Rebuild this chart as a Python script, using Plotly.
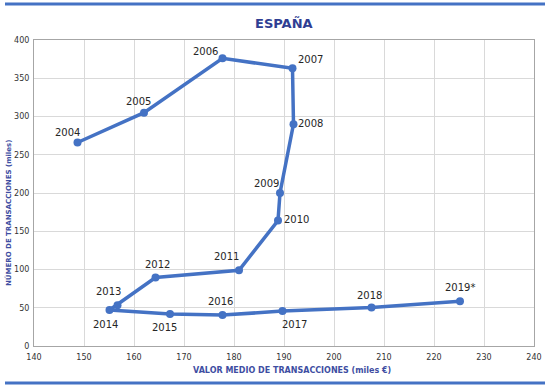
import plotly.graph_objects as go

years = ["2004", "2005", "2006", "2007", "2008", "2009", "2010", "2011", "2012",
         "2013", "2014", "2015", "2016", "2017", "2018", "2019*"]
valor_medio = [148.7, 162.0, 177.7, 191.7, 191.9, 189.2, 188.8, 181.0, 164.3,
               156.7, 155.1, 167.2, 177.7, 189.7, 207.5, 225.2]
num_transacciones = [266, 305, 376, 363, 290, 200, 164, 99, 89.5,
                     53.4, 47, 41.7, 40.4, 45.6, 50.4, 58.6]

# label offsets in pixels (dx, dy) relative to each point
label_offsets = [(-10, -10), (-6, -11), (-17, -7), (18, -9), (17, -1), (-14, -10),
                 (18, -1), (-13, -14), (2, -13), (-9, -14), (-4, 14), (-6, 13),
                 (-2, -14), (12, 13), (-2, -12), (0, -14)]

blue = "#4472C4"
title_blue = "#2F3E93"
axis_title_blue = "#3E4EA2"

fig = go.Figure()
fig.add_trace(go.Scatter(
    x=valor_medio, y=num_transacciones, mode="lines+markers",
    line=dict(color=blue, width=3.5),
    marker=dict(color=blue, size=8),
    hoverinfo="skip", showlegend=False,
))

annotations = []
for yr, xv, yv, (dx, dy) in zip(years, valor_medio, num_transacciones, label_offsets):
    annotations.append(dict(
        x=xv, y=yv, xref="x", yref="y", text=yr, showarrow=True,
        arrowcolor="rgba(0,0,0,0)", ax=dx, ay=dy,
        font=dict(family="DejaVu Sans", size=10, color="#262626"),
    ))

annotations.append(dict(
    x=0.5, y=1, xref="paper", yref="paper", yanchor="bottom", yshift=7,
    text="<b>ESPAÑA</b>", showarrow=False,
    font=dict(family="DejaVu Sans", size=13, color=title_blue),
))
annotations.append(dict(
    x=0.5, y=0, xref="paper", yref="paper", yanchor="middle", yshift=-24,
    xshift=8,
    text="<b>VALOR MEDIO DE TRANSACCIONES (miles €)</b>", showarrow=False,
    font=dict(family="DejaVu Sans", size=8, color=axis_title_blue),
))
annotations.append(dict(
    x=0, y=0.5, xref="paper", yref="paper", xanchor="center", xshift=-26,
    yshift=-20, textangle=-90,
    text="<b>NÚMERO DE TRANSACCIONES (miles)</b>", showarrow=False,
    font=dict(family="DejaVu Sans", size=7, color=axis_title_blue),
))

fig.update_layout(
    width=550, height=389,
    margin=dict(l=34, r=16, t=40, b=43),
    paper_bgcolor="white", plot_bgcolor="white",
    annotations=annotations,
    shapes=[
        dict(type="line", xref="paper", yref="paper", x0=-0.058, x1=1.022,
             y0=1.1176, y1=1.1176, line=dict(color=blue, width=3)),
        dict(type="line", xref="paper", yref="paper", x0=-0.058, x1=1.022,
             y0=-0.121, y1=-0.121, line=dict(color=blue, width=3)),
    ],
    font=dict(family="DejaVu Sans", size=8, color="#333333"),
)
fig.update_xaxes(
    range=[140, 240], dtick=10, tick0=140, automargin=False,
    showgrid=True, gridcolor="#D9D9D9", gridwidth=1,
    showline=True, linecolor="#A6A6A6", mirror=True, zeroline=False,
    ticks="", ticklabelstandoff=3, tickfont=dict(size=8, color="#333333"),
)
fig.update_yaxes(
    range=[0, 400], dtick=50, automargin=False,
    showgrid=True, gridcolor="#D9D9D9", gridwidth=1,
    showline=True, linecolor="#A6A6A6", mirror=True, zeroline=False,
    ticks="", ticklabelstandoff=2, tickfont=dict(size=8, color="#333333"),
)

fig.write_html("out.html", config={"displayModeBar": False},
               post_script="document.body.style.margin='0';document.body.style.overflow='hidden';")
